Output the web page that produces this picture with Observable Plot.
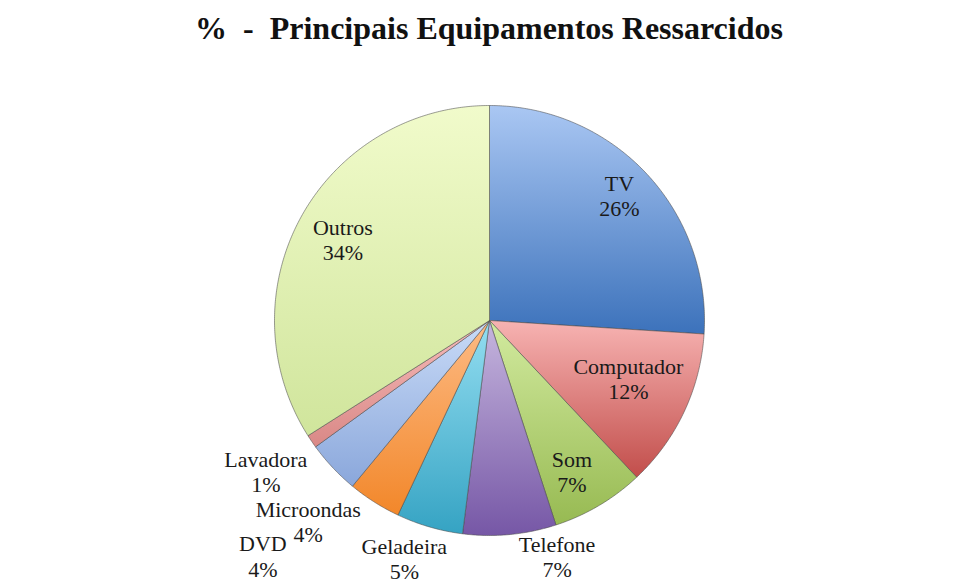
<!DOCTYPE html>
<html>
<head>
<meta charset="utf-8">
<script src="https://cdn.jsdelivr.net/npm/d3@7"></script>
<script src="https://cdn.jsdelivr.net/npm/@observablehq/plot@0.6"></script>
<style>
  html, body { margin: 0; padding: 0; background: #fff; }
  #wrap { width: 976px; height: 584px; position: relative; overflow: hidden; }
  #title { height: 56px; line-height: 56px; text-align: center; font-family: "Liberation Serif", serif; font-weight: bold; font-size: 32px; color: #111; white-space: pre; padding-left: 2px; }
</style>
</head>
<body>
<div id="wrap">
  <div id="title">%  -  Principais Equipamentos Ressarcidos</div>
  <div id="chart"></div>
</div>
<script>
// ---- data ----
const categories = ["TV", "Computador", "Som", "Telefone", "Geladeira", "DVD", "Microondas", "Lavadora", "Outros"];
const percents = [26, 12, 7, 7, 5, 4, 4, 1, 34];

// ---- styles ----
const gradTop    = ["#aac7f3", "#f7b3b2", "#d2ea9f", "#c6b6de", "#94def1", "#fdbb85", "#c9dbf7", "#f7bcbb", "#f1fbcb"];
const gradBottom = ["#3c72bb", "#c24e4b", "#97ba52", "#7657a6", "#35a3c3", "#f2872a", "#8aa7db", "#d98886", "#d0e59c"];
// label placement: radius as fraction of pie radius, angular nudge in degrees
const labelRadius = [0.84, 0.70, 0.80, 1.14, 1.175, 1.52, 1.26, 1.255, 0.78];
const labelShift  = [-0.8, -2.6, 2.0, -10.6, 3.5, 11.5, -4.8, 0.2, 0.2];

const total = d3.sum(percents);
const pie = d3.pie().sort(null).value(d => d)(percents);

// polygon vertices for each slice (unit radius)
const slicePts = [];
pie.forEach((p, i) => {
  const n = Math.max(2, Math.ceil((p.endAngle - p.startAngle) / (Math.PI / 360)));
  slicePts.push({k: i, x: 0, y: 0});
  for (let j = 0; j <= n; j++) {
    const a = p.startAngle + (p.endAngle - p.startAngle) * j / n;
    slicePts.push({k: i, x: Math.sin(a), y: Math.cos(a)});
  }
  slicePts.push({k: i, x: 0, y: 0});
});

const labelData = pie.map((p, i) => {
  const a = (p.startAngle + p.endAngle) / 2 + labelShift[i] * Math.PI / 180;
  const r = labelRadius[i];
  return {
    text: categories[i] + "\n" + Math.round(percents[i] / total * 100) + "%",
    x: r * Math.sin(a),
    y: r * Math.cos(a)
  };
});

const marks = categories.map((c, i) =>
  Plot.line(slicePts.filter(d => d.k === i), {
    x: "x", y: "y",
    fill: `url(#g${i})`,
    stroke: "#4a4a4a", strokeOpacity: 0.55, strokeWidth: 1, strokeLinejoin: "round",
    curve: "linear"
  })
);
marks.push(Plot.text(labelData, {
  x: "x", y: "y", text: "text",
  fontFamily: "Liberation Serif, serif", fontSize: 22, fill: "#1a1a1a",
  lineHeight: 1.14, lineAnchor: "middle"
}));

const cx = 489, cy = 264, R = 215;
const chart = Plot.plot({
  width: 976, height: 528,
  margin: 0,
  x: {domain: [-1, 1], range: [cx - R, cx + R], axis: null},
  y: {domain: [-1, 1], range: [cy + R, cy - R], axis: null},
  style: {background: "transparent", overflow: "visible"},
  marks
});

const defs = d3.select(chart).insert("defs", ":first-child");
gradTop.forEach((t, i) => {
  const g = defs.append("linearGradient").attr("id", `g${i}`)
    .attr("x1", 0).attr("y1", 0).attr("x2", 0).attr("y2", 1);
  g.append("stop").attr("offset", "0%").attr("stop-color", t);
  g.append("stop").attr("offset", "100%").attr("stop-color", gradBottom[i]);
});

document.getElementById("chart").appendChild(chart);
</script>
</body>
</html>
